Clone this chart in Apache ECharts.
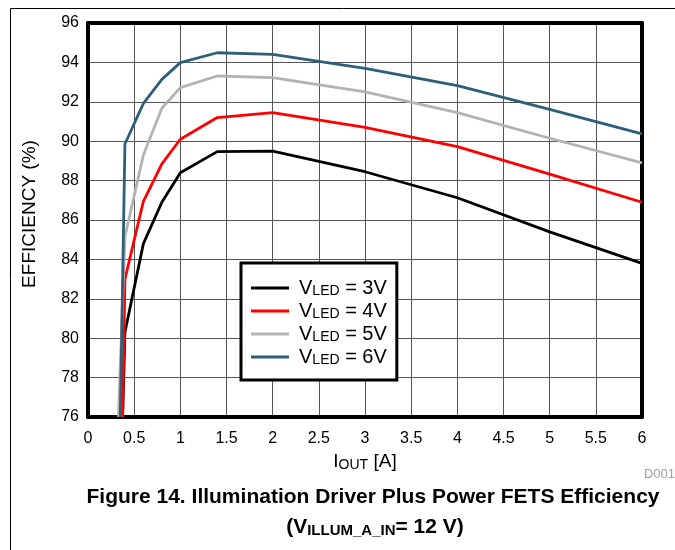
<!DOCTYPE html>
<html>
<head>
<meta charset="utf-8">
<script src="https://cdn.jsdelivr.net/npm/echarts@6/dist/echarts.min.js"></script>
<style>
html,body{margin:0;padding:0;background:#fff;}
#chart{width:675px;height:550px;}
</style>
</head>
<body>
<div id="chart"></div>
<script>
// ---- data ----
var seriesNames = ['3V', '4V', '5V', '6V'];
var iout3 = [0.375, 0.4, 0.6, 0.8, 1, 1.4, 2, 3, 4, 5, 6];
var eff3  = [76, 80.3, 84.8, 86.9, 88.4, 89.47, 89.5, 88.45, 87.13, 85.4, 83.8];
var iout4 = [0.375, 0.4, 0.6, 0.8, 1, 1.4, 2, 3, 4, 5, 6];
var eff4  = [76, 83.0, 86.95, 88.85, 90.1, 91.2, 91.45, 90.7, 89.72, 88.33, 86.9];
var iout5 = [0.33, 0.4, 0.6, 0.8, 1, 1.4, 2, 3, 4, 5, 6];
var eff5  = [76, 85.15, 89.3, 91.67, 92.72, 93.31, 93.23, 92.5, 91.45, 90.15, 88.9];
var iout6 = [0.35, 0.4, 0.6, 0.8, 1, 1.4, 2, 3, 4, 5, 6];
var eff6  = [76, 89.86, 91.92, 93.14, 93.99, 94.49, 94.41, 93.7, 92.82, 91.62, 90.37];
var seriesColors = ['#000000', '#ff0000', '#b3b3b3', '#2d5f78'];

function pairs(xs, ys) { return xs.map(function (x, i) { return [x, ys[i]]; }); }
var allData = [pairs(iout3, eff3), pairs(iout4, eff4), pairs(iout5, eff5), pairs(iout6, eff6)];

var FONT = '"Liberation Sans", Arial, sans-serif';
var chart = echarts.init(document.getElementById('chart'));

var series = seriesNames.map(function (n, i) {
  return {
    name: n, type: 'line', data: allData[i], showSymbol: false, symbol: 'none',
    xAxisIndex: 0, yAxisIndex: 0,
    lineStyle: { color: seriesColors[i], width: 2.8 },
    itemStyle: { color: seriesColors[i] },
    animation: false, z: 3
  };
});

var option = {
  animation: false,
  backgroundColor: '#fff',
  grid: { left: 88, right: 33, top: 23, bottom: 133 },
  xAxis: [{
    type: 'value', min: 0, max: 6, interval: 0.5, position: 'bottom',
    axisLine: { show: true, onZero: false, lineStyle: { color: '#000', width: 4 } },
    axisTick: { show: false },
    axisLabel: { color: '#000', fontSize: 16, fontFamily: FONT, margin: 14 },
    splitLine: { show: true, lineStyle: { color: '#555', width: 1 } },
    name: '{i|I}{s|OUT}{i| [A]}', nameLocation: 'middle', nameGap: 35,
    nameTextStyle: {
      color: '#000', fontFamily: FONT,
      rich: {
        i: { fontSize: 19, fontFamily: FONT, color: '#000', lineHeight: 20 },
        s: { fontSize: 14, fontFamily: FONT, color: '#000', lineHeight: 13, verticalAlign: 'bottom' }
      }
    }
  }, {
    type: 'value', min: 0, max: 6, position: 'top',
    axisLine: { show: true, onZero: false, lineStyle: { color: '#000', width: 4 } },
    axisTick: { show: false }, axisLabel: { show: false }, splitLine: { show: false }
  }],
  yAxis: [{
    type: 'value', min: 76, max: 96, interval: 2, position: 'left',
    axisLine: { show: true, onZero: false, lineStyle: { color: '#000', width: 4 } },
    axisTick: { show: false },
    axisLabel: { color: '#000', fontSize: 16, fontFamily: FONT, margin: 9 },
    splitLine: { show: true, lineStyle: { color: '#555', width: 1 } }
  }, {
    type: 'value', min: 76, max: 96, position: 'right',
    axisLine: { show: true, onZero: false, lineStyle: { color: '#000', width: 4 } },
    axisTick: { show: false }, axisLabel: { show: false }, splitLine: { show: false }
  }],
  legend: {
    data: seriesNames, orient: 'vertical', left: 241, top: 263,
    backgroundColor: '#fff', borderColor: '#000', borderWidth: 3,
    padding: [15, 10, 13, 10], itemGap: 3,
    icon: 'rect', itemWidth: 38, itemHeight: 3,
    selectedMode: false,
    formatter: function (name) { return '{v0|V}{s|LED}{v| = ' + name + '}'; },
    textStyle: {
      fontFamily: FONT, color: '#000', fontSize: 20,
      rich: {
        v0: { fontSize: 20, fontFamily: FONT, color: '#000', lineHeight: 20, padding: [0, 0, 0, 5] },
        v: { fontSize: 20, fontFamily: FONT, color: '#000', lineHeight: 20 },
        s: { fontSize: 14, fontFamily: FONT, color: '#000', lineHeight: 13, verticalAlign: 'bottom' }
      }
    }
  },
  graphic: [
    { type: 'rect', shape: { x: 10.5, y: 8.5, width: 700, height: 600 },
      style: { fill: 'none', stroke: '#000', lineWidth: 1 }, silent: true, z: -10 },
    { type: 'text', x: 30, y: 214, rotation: Math.PI / 2,
      style: { text: 'EFFICIENCY (%)', fill: '#000', font: '19px ' + FONT,
        textAlign: 'center', textVerticalAlign: 'middle' } },
    { type: 'text', x: 675, y: 474,
      style: { text: 'D001', fill: '#a0a0a0', font: '13px ' + FONT, textAlign: 'right', textVerticalAlign: 'middle' } },
    { type: 'text', x: 373, y: 497,
      style: { text: 'Figure 14. Illumination Driver Plus Power FETS Efficiency', fill: '#000',
        font: 'bold 21px ' + FONT, textAlign: 'center', textVerticalAlign: 'middle' } },
    { type: 'text', x: 375, y: 527,
      style: {
        text: '{b|(V}{bs|ILLUM_A_IN}{b|= 12 V)}', textAlign: 'center', textVerticalAlign: 'middle',
        rich: {
          b: { fontSize: 21, fontWeight: 'bold', fontFamily: FONT, fill: '#000', lineHeight: 22 },
          bs: { fontSize: 15, fontWeight: 'bold', fontFamily: FONT, fill: '#000', lineHeight: 14, verticalAlign: 'bottom' }
        }
      } }
  ],
  series: series
};
chart.setOption(option);
</script>
</body>
</html>
